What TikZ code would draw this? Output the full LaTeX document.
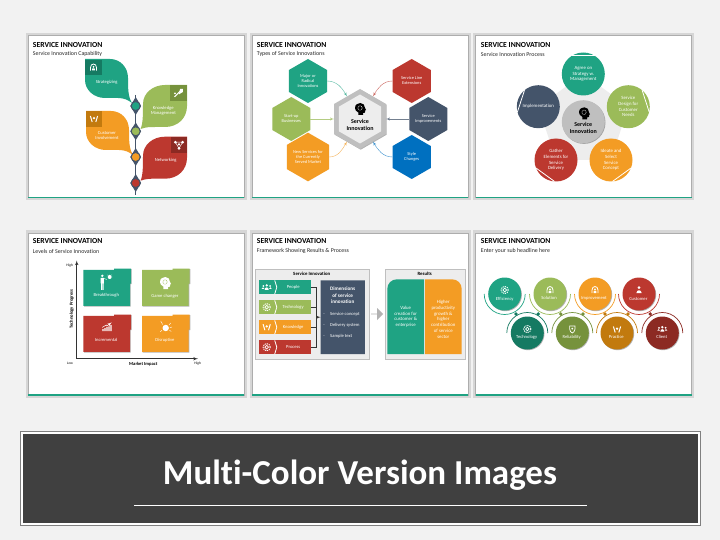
\documentclass[tikz,border=0pt]{standalone}
\usepackage{fontspec}
\setmainfont[Ligatures=NoCommon]{Carlito}
\usepackage{tikz}
\usetikzlibrary{arrows}
\usetikzlibrary{positioning}
\usetikzlibrary{shapes.geometric,shapes.misc,shapes.arrows,shadows}
\definecolor{pageback}{HTML}{F2F2F2}
\definecolor{cteal}{HTML}{1FA383}
\definecolor{cgreen}{HTML}{9BBB59}
\definecolor{corange}{HTML}{F39C24}
\definecolor{cred}{HTML}{BC382F}
\definecolor{cslate}{HTML}{44546A}
\definecolor{cblue}{HTML}{0070C0}
\definecolor{dteal}{HTML}{157A62}
\definecolor{dgreen}{HTML}{76923C}
\definecolor{dorange}{HTML}{C27A0E}
\definecolor{dred}{HTML}{8C2A23}
\definecolor{lgray}{HTML}{EDEDED}
\definecolor{mgray}{HTML}{BFBFBF}
\tikzstyle{slide}=[rectangle,fill=white,draw=black!32,line width=.9pt,inner sep=0pt,outer sep=0pt,preaction={draw=black!16,line width=5pt}]
\tikzstyle{slidebar}=[draw=cteal,line width=1.3pt]
\tikzstyle{headline}=[anchor=west,inner sep=0pt,font=\fontsize{7.7}{8}\selectfont\bfseries]
\tikzstyle{subline}=[anchor=west,inner sep=0pt,font=\fontsize{5.9}{6}\selectfont,text=black!85]
\tikzstyle{whitetext}=[inner sep=0pt,align=center,text=white,font=\fontsize{4.6}{5.5}\selectfont]
\tikzstyle{coretext}=[inner sep=0pt,align=center,font=\fontsize{6}{7}\selectfont\bfseries]
\tikzstyle{tile}=[rectangle,inner sep=0pt,outer sep=0pt]
\tikzstyle{stemline}=[draw=cslate,line width=1.4pt]
\tikzstyle{stempin}=[diamond,fill=cslate,minimum width=11pt,minimum height=18pt,inner sep=0pt]
\tikzstyle{stemdot}=[circle,draw=cslate,line width=1pt,minimum size=9pt,inner sep=0pt]
\tikzstyle{hexcell}=[regular polygon,regular polygon sides=6,shape border rotate=30,minimum size=44pt,inner sep=0pt,outer sep=0pt,text=white,align=center,font=\fontsize{4.4}{5}\selectfont]
\tikzstyle{hexlink}=[line width=.4pt,-latex']
\tikzstyle{bigdot}=[circle,minimum size=43pt,inner sep=0pt,outer sep=0pt,text=white,align=center,font=\fontsize{4.8}{5.6}\selectfont]
\tikzstyle{chord}=[draw=white,line width=.8pt]
\tikzstyle{axis}=[draw=black!80,line width=.6pt,-latex']
\tikzstyle{axistext}=[inner sep=0pt,font=\fontsize{3.6}{4}\selectfont]
\tikzstyle{axisname}=[inner sep=0pt,font=\fontsize{4.6}{5}\selectfont\bfseries]
\tikzstyle{softshadow}=[drop shadow={shadow xshift=.7pt,shadow yshift=-.7pt,opacity=.3,fill=black}]
\tikzstyle{panelbox}=[rectangle,fill=lgray,draw=mgray,line width=.7pt,inner sep=0pt,outer sep=0pt]
\tikzstyle{boxtitle}=[inner sep=0pt,font=\fontsize{4.8}{5}\selectfont\bfseries]
\tikzstyle{elbow}=[draw=black!80,line width=.5pt]
\tikzstyle{ringdot}=[circle,minimum size=33pt,inner sep=0pt,outer sep=0pt,text=white,font=\fontsize{4.4}{5}\selectfont]
\tikzstyle{ringarc}=[line width=.7pt]
\tikzstyle{ringmark}=[diamond,minimum size=4pt,inner sep=0pt]
% leaves of the first slide, origin is the square corner
\newcommand{\leafleft}[3]{\fill[#1,shift={(#2,#3)}] (0,0) -- (25,0) .. controls (35,0) and (43,8) .. (43,19) .. controls (43,29) and (43,38) .. (47,44) .. controls (43,41) and (39,39) .. (33,39) -- (20,39) .. controls (9,39) and (0,31) .. (0,21) -- cycle;}
\newcommand{\leafright}[3]{\fill[#1,shift={(#2,#3)}] (0,0) -- (-22,0) .. controls (-34,0) and (-44,8) .. (-44,19) .. controls (-44,29) and (-44,39) .. (-46.5,44) .. controls (-41,42) and (-37,42) .. (-32,42) -- (-22,42) .. controls (-9,42) and (0,33) .. (0,21) -- cycle;}
% card with a tab on the top right
\newcommand{\levelcard}[3]{\fill[#1,softshadow,shift={(#2,#3)}] (0,1.3) -- (30.7,1.3) -- (30.7,0) -- (47.7,0) -- (47.7,15) -- (46.7,15) -- (46.7,37.3) -- (0,37.3) -- cycle;}
% white pictograms
\newcommand{\iconperson}[2]{\fill[white,shift={(#1,#2)}] (0,-2.4) circle (1.5pt) (-2.6,3) .. controls (-2.6,-.6) and (2.6,-.6) .. (2.6,3) -- cycle;}
\newcommand{\iconpeople}[2]{\fill[white,shift={(#1,#2)}] (0,-1.8) circle (1.3pt) (-3.3,-1.2) circle (1pt) (3.3,-1.2) circle (1pt) (-2,2.6) .. controls (-2,-.6) and (2,-.6) .. (2,2.6) -- cycle (-5,1.6) .. controls (-5,-.4) and (-2.4,-.4) .. (-2.4,1.6) -- cycle (2.4,1.6) .. controls (2.4,-.4) and (5,-.4) .. (5,1.6) -- cycle;}
\newcommand{\icongear}[2]{\draw[white,line width=.7pt,shift={(#1,#2)}] (0,0) circle (1.8pt); \draw[white,line width=.9pt,dash pattern=on 1.2pt off .9pt,shift={(#1,#2)}] (0,0) circle (3.6pt);}
\newcommand{\iconarch}[2]{\draw[white,line width=.8pt,shift={(#1,#2)}] (-3,3.2) -- (-3,0) .. controls (-3,-4.6) and (3,-4.6) .. (3,0) -- (3,3.2); \fill[white,shift={(#1,#2)}] (0,-.6) circle (1pt) (-1.4,3) -- (-1.2,.8) -- (1.2,.8) -- (1.4,3) -- cycle;}
\newcommand{\iconhands}[2]{\draw[white,line width=1pt,shift={(#1,#2)}] (-3.6,-3) -- (-1.8,3) (3.6,-3) -- (1.8,3); \fill[white,shift={(#1,#2)}] (0,-.8) circle (1.3pt);}
\newcommand{\iconshield}[2]{\draw[white,line width=.7pt,shift={(#1,#2)}] (-2.7,-3) -- (2.7,-3) -- (2.7,0) .. controls (2.7,2.4) and (1,3.4) .. (0,4) .. controls (-1,3.4) and (-2.7,2.4) .. (-2.7,0) -- cycle; \fill[white,shift={(#1,#2)}] (0,-.4) circle (1pt);}
\newcommand{\iconnet}[2]{\draw[white,line width=.5pt,shift={(#1,#2)}] (-3.6,-2.6) -- (3.6,-2.6) -- (0,3.6) -- cycle; \fill[white,shift={(#1,#2)}] (-3.6,-2.6) circle (1.5pt) (3.6,-2.6) circle (1.5pt) (0,3.6) circle (1.5pt) (0,-.4) circle (1.2pt);}
\newcommand{\icontool}[2]{\draw[white,line width=1pt,shift={(#1,#2)}] (-4,4) -- (3,-3); \fill[white,shift={(#1,#2)}] (1.6,-4) -- (4.4,-4) -- (4.4,-.8) -- (.4,1.6) -- cycle (-3.6,.6) circle (1pt);}
\newcommand{\iconchart}[2]{\fill[white,shift={(#1,#2)}] (-5,3) rectangle (-3.6,1.2) (-3,3) rectangle (-1.6,.2) (-1,3) rectangle (.4,-.8) (1,3) rectangle (2.4,-1.6) (3,3) rectangle (4.4,-2.8); \draw[white,line width=.5pt,-latex',shift={(#1,#2)}] (-5,-.6) -- (-1,-3) -- (-.4,-2) -- (4.4,-5.6);}
\newcommand{\iconburst}[2]{\fill[white,shift={(#1,#2)}] (0,0) circle (3.2pt); \draw[white,line width=.4pt,shift={(#1,#2)}] (-3,-3.4) -- (-5,-7) (3.2,-3) -- (5,-5) (4.2,-.4) -- (6.4,-1) (3.8,2.4) -- (5.6,3.4) (-3.8,2.4) -- (-5.4,3.6);}
\newcommand{\iconpitch}[2]{\fill[white,shift={(#1,#2)}] (-4,-7.2) circle (1.3pt) (-5.6,-5.2) rectangle (-2.4,.4) (-5.2,.4) rectangle (-4.3,6.8) (-3.7,.4) rectangle (-2.8,6.8) (3.4,-6) circle (2pt); \draw[white,line width=.4pt,shift={(#1,#2)}] (-2.6,-4.6) -- (.4,-3.6) (3.4,-9) -- (3.4,-8.6) (.4,-6) -- (.8,-6) (6.4,-6) -- (6,-6) (1.2,-8.2) -- (1.6,-7.8) (5.6,-8.2) -- (5.2,-7.8);}
% head with a gear, fill colour and colour of the gear
\newcommand{\iconhead}[4]{\fill[#3,shift={(#1,#2)}] (-1.6,6) -- (-1.6,3.6) .. controls (-4,2.6) and (-5,.6) .. (-5,-1) .. controls (-5,-4.6) and (-2,-6) .. (.4,-6) .. controls (3.4,-6) and (5,-3.6) .. (5,-1) -- (6,1) -- (5,1.6) -- (5,3.2) .. controls (5,4) and (4,4) .. (3,4) -- (3,6) -- cycle; \draw[#4,line width=.4pt,dash pattern=on .8pt off .6pt,shift={(#1,#2)}] (0,-1) circle (2.2pt);}

\begin{document}
\begin{tikzpicture}[x=1pt,y=-1pt]
	\useasboundingbox (0,0) rectangle (720,540);
	\fill[pageback] (0,0) rectangle (720,540);
	
	% six slides
	\node[slide,minimum width=216pt,minimum height=162pt] (slideA) at (136,116.5) {};
	\node[slide,minimum width=216pt,minimum height=162pt] (slideB) at (360,116.5) {};
	\node[slide,minimum width=216pt,minimum height=162pt] (slideC) at (583.5,116.5) {};
	\node[slide,minimum width=216pt,minimum height=162pt] (slideD) at (136,314) {};
	\node[slide,minimum width=216pt,minimum height=162pt] (slideE) at (360,314) {};
	\node[slide,minimum width=216pt,minimum height=162pt] (slideF) at (583.5,314) {};
	\draw[slidebar] (slideA.south west) -- (slideA.south east);
	\draw[slidebar] (slideB.south west) -- (slideB.south east);
	\draw[slidebar] (slideC.south west) -- (slideC.south east);
	\draw[slidebar] (slideD.south west) -- (slideD.south east);
	\draw[slidebar] (slideE.south west) -- (slideE.south east);
	\draw[slidebar] (slideF.south west) -- (slideF.south east);
	
	\node[headline] (headA) at (32.7,44.7) {SERVICE INNOVATION};
	\node[subline] (subA) at (32.7,54) {Service Innovation Capability};
	\node[headline] (headB) at (256.7,44.7) {SERVICE INNOVATION};
	\node[subline] (subB) at (256.7,54) {Types of Service Innovations};
	\node[headline] (headC) at (480.7,44.7) {SERVICE INNOVATION};
	\node[subline] (subC) at (480.7,54) {Service Innovation Process};
	\node[headline] (headD) at (32.7,241.5) {SERVICE INNOVATION};
	\node[subline] (subD) at (32.7,251) {Levels of Service Innovation};
	\node[headline] (headE) at (256.7,241.5) {SERVICE INNOVATION};
	\node[subline] (subE) at (256.7,251) {Framework Showing Results \& Process};
	\node[headline] (headF) at (480.7,241.5) {SERVICE INNOVATION};
	\node[subline] (subF) at (480.7,251) {Enter your sub headline here};
	
	% slide A, the plant
	\leafleft{cteal}{85}{59}
	\leafright{cgreen}{187}{85}
	\leafleft{corange}{86}{111}
	\leafright{cred}{187}{136.7}
	\node[tile,fill=dteal,minimum width=17pt,minimum height=15pt] (markA) at (93.5,67.5) {};
	\node[tile,fill=dgreen,minimum width=17pt,minimum height=15.7pt] (markB) at (178.5,92.8) {};
	\node[tile,fill=dorange,minimum width=16pt,minimum height=16pt] (markC) at (94,119) {};
	\node[tile,fill=dred,minimum width=16pt,minimum height=16pt] (markD) at (179,144.8) {};
	\iconarch{93.5}{67.5}
	\icontool{178.5}{92.8}
	\iconhands{94}{119}
	\iconnet{179}{144.8}
	\node[whitetext] (leafA) at (106.7,82.3) {Strategizing};
	\node[whitetext] (leafB) at (163.3,110.7) {Knowledge\\Management};
	\node[whitetext] (leafC) at (107,135.7) {Customer\\Involvement};
	\node[whitetext] (leafD) at (165.7,160) {Networking};
	\coordinate (stemtop) at (135.7,95);
	\coordinate (stemend) at (135.7,195);
	\node[stempin] (pinA) at (135.7,106) {};
	\node[stempin] (pinB) at (135.7,131.3) {};
	\node[stempin] (pinC) at (135.7,157) {};
	\node[stempin] (pinD) at (135.7,183) {};
	\draw[stemline] (stemtop) -- (stemend);
	\node[stemdot,fill=cteal] (dotA) at (135.7,106) {};
	\node[stemdot,fill=cgreen] (dotB) at (135.7,131.3) {};
	\node[stemdot,fill=corange] (dotC) at (135.7,157) {};
	\node[stemdot,fill=cred] (dotD) at (135.7,183) {};
	
	% slide B, the hexagons
	\node[hexcell,fill=mgray,minimum size=60pt,softshadow] (core) at (360,119) {};
	\node[hexcell,fill=lgray,minimum size=49pt] (coreinner) at (360,119) {};
	\node[hexcell,fill=cteal] (major) at (308,81) {Major or\\Radical\\Innovations};
	\node[hexcell,fill=cred] (senior) at (411.7,81) {Service Line\\Extensions};
	\node[hexcell,fill=cgreen] (startup) at (291.3,119) {Start-up\\Businesses};
	\node[hexcell,fill=cslate] (improve) at (428.3,119) {Service\\Improvements};
	\node[hexcell,fill=corange] (newserv) at (308,157) {New Services for\\the Currently\\Served Market};
	\node[hexcell,fill=cblue] (style) at (411.7,157) {Style\\Changes};
	\draw[hexlink,draw=cteal!75] (major.east) to[out=0,in=120] (core.120);
	\draw[hexlink,draw=cred!75] (senior.west) to[out=180,in=60] (core.60);
	\draw[hexlink,draw=cgreen!75] (startup.east) to (core.180);
	\draw[hexlink,draw=cslate!75] (improve.west) to (core.0);
	\draw[hexlink,draw=corange!75] (newserv.east) to[out=0,in=240] (core.240);
	\draw[hexlink,draw=cblue!75] (style.west) to[out=180,in=300] (core.300);
	\iconhead{360}{109}{black}{white}
	\node[coretext] (corename) at (360,124.5) {Service\\Innovation};
	
	% slide C, the pentagon
	\fill[lgray] (583.3,74) -- (628.3,106.7) -- (611,160) -- (556,160) -- (538.3,106.7) -- cycle;
	\node[bigdot,fill=cteal] (agree) at (583.3,74) {Agree on\\Strategy w.\\Management};
	\node[bigdot,fill=cgreen] (design) at (628.3,106.7) {Service\\Design for\\Customer\\Needs};
	\node[bigdot,fill=corange] (ideate) at (611,160) {Ideate and\\Select\\Service\\Concept};
	\node[bigdot,fill=cred] (gather) at (556,160) {Gather\\Elements for\\Service\\Delivery};
	\node[bigdot,fill=cslate] (impl) at (538.3,106.7) {Implementation};
	\draw[chord] (agree.58) -- (agree.122);
	\draw[chord] (design.-14) -- (design.50);
	\draw[chord] (ideate.-86) -- (ideate.-22);
	\draw[chord] (gather.-158) -- (gather.-94);
	\draw[chord] (impl.130) -- (impl.194);
	\node[bigdot,fill=mgray,softshadow] (hub) at (583.3,121.7) {};
	\iconhead{584}{113.3}{black}{white}
	\node[coretext] (hubname) at (583.3,127.5) {Service\\Innovation};
	
	% slide D, the matrix
	\coordinate (origin) at (76.7,358.7);
	\coordinate (axisup) at (76.7,260.5);
	\coordinate (axisright) at (198,358.7);
	\draw[axis] (origin) -- (axisup);
	\draw[axis] (origin) -- (axisright);
	\node[axistext] (highup) at (69.7,265.7) {High};
	\node[axistext] (lowend) at (70,363.7) {Low};
	\node[axistext] (highright) at (197.7,363.7) {High};
	\node[axisname] (market) at (143.3,364) {Market Impact};
	\node[axisname,rotate=90] (techprog) at (71.7,309) {Technology Progress};
	\levelcard{cteal}{83.3}{268.5}
	\levelcard{cgreen}{142}{268.5}
	\levelcard{cred}{83.3}{314.5}
	\levelcard{corange}{142}{314.5}
	\iconpitch{106.3}{283}
	\iconhead{165}{283}{white}{cgreen}
	\iconchart{107.3}{328}
	\iconburst{165.7}{328}
	\node[whitetext] (levelA) at (106.3,295.3) {Breakthrough};
	\node[whitetext] (levelB) at (165,296) {Game changer};
	\node[whitetext] (levelC) at (106.3,340) {Incremental};
	\node[whitetext] (levelD) at (165,340.7) {Disruptive};
	
	% slide E, the framework
	\node[panelbox,minimum width=114.7pt,minimum height=90.3pt,softshadow] (innobox) at (312.3,314.2) {};
	\node[panelbox,minimum width=80pt,minimum height=90.3pt,softshadow] (resultbox) at (425,314.2) {};
	\node[boxtitle] (innotitle) at (311.7,274) {Service Innovation};
	\node[boxtitle] (resulttitle) at (424.7,274) {Results};
	\node[tile,fill=cteal,minimum width=16pt,minimum height=13.7pt] (peopleicon) at (266.7,287.2) {};
	\node[tile,fill=cgreen,minimum width=16pt,minimum height=13.7pt] (techicon) at (266.7,307.2) {};
	\node[tile,fill=corange,minimum width=16pt,minimum height=13.7pt] (knowicon) at (266.7,327.2) {};
	\node[tile,fill=cred,minimum width=16pt,minimum height=13.7pt] (procicon) at (266.7,347.2) {};
	\node[tile,fill=cteal,minimum width=36.3pt,minimum height=13.7pt,text=white,font=\fontsize{4.6}{5}\selectfont] (people) at (293.2,287.2) {People};
	\node[tile,fill=cgreen,minimum width=36.3pt,minimum height=13.7pt,text=white,font=\fontsize{4.6}{5}\selectfont] (tech) at (293.2,307.2) {Technology};
	\node[tile,fill=corange,minimum width=36.3pt,minimum height=13.7pt,text=white,font=\fontsize{4.6}{5}\selectfont] (know) at (293.2,327.2) {Knowledge};
	\node[tile,fill=cred,minimum width=36.3pt,minimum height=13.7pt,text=white,font=\fontsize{4.6}{5}\selectfont] (proc) at (293.2,347.2) {Process};
	\draw[white,line width=.8pt] (peopleicon.north east) -- (276.8,287.2) -- (peopleicon.south east);
	\draw[white,line width=.8pt] (techicon.north east) -- (276.8,307.2) -- (techicon.south east);
	\draw[white,line width=.8pt] (knowicon.north east) -- (276.8,327.2) -- (knowicon.south east);
	\draw[white,line width=.8pt] (procicon.north east) -- (276.8,347.2) -- (procicon.south east);
	\iconpeople{266.7}{287.2}
	\icongear{266.7}{307.2}
	\iconhands{266.7}{327.2}
	\icongear{266.7}{347.2}
	\node[chamfered rectangle,chamfered rectangle corners={north east,south west},chamfered rectangle xsep=3pt,chamfered rectangle ysep=3pt,fill=cslate,minimum width=44.3pt,minimum height=73.7pt,inner sep=0pt,outer sep=0pt] (dims) at (342.8,317.2) {};
	\node[inner sep=0pt,align=center,text=white,font=\fontsize{5.2}{6.4}\selectfont\bfseries] (dimshead) at (342.7,295.5) {Dimensions\\of service\\innovation};
	\node[whitetext,anchor=west] (dimsA) at (330,314.3) {Service concept};
	\node[whitetext,anchor=west] (dimsB) at (330,325.7) {Delivery system};
	\node[whitetext,anchor=west] (dimsC) at (330,336.7) {Sample text};
	\node[whitetext,anchor=center] (bulletA) at (324,314.3) {-};
	\node[whitetext,anchor=center] (bulletB) at (324,325.7) {-};
	\node[whitetext,anchor=center] (bulletC) at (324,336.7) {-};
	\coordinate (joint) at (316,317.2);
	\draw[elbow] (people.east) -| (joint);
	\draw[elbow] (tech.east) -| (joint);
	\draw[elbow] (know.east) -| (joint);
	\draw[elbow] (proc.east) -| (joint);
	\draw[elbow,-latex'] (joint) -- (dims.west);
	\node[single arrow,fill=black!30,minimum height=12pt,minimum width=12pt,single arrow head extend=2.7pt,inner sep=0pt,outer sep=0pt] (bigarrow) at (377,314) {};
	\fill[cteal] (387.3,354) -- (387.3,289) .. controls (387.3,283.5) and (391.5,279.3) .. (397,279.3) -- (424,279.3) -- (424,354) -- cycle;
	\fill[corange] (461.7,354) -- (461.7,289) .. controls (461.7,283.5) and (457.5,279.3) .. (452,279.3) -- (425,279.3) -- (425,354) -- cycle;
	\node[whitetext,font=\fontsize{4.8}{5.7}\selectfont] (valuetext) at (405.7,316.7) {Value\\creation for\\customer \&\\enterprise};
	\node[whitetext,font=\fontsize{4.8}{5.7}\selectfont] (highertext) at (443.3,319.3) {Higher\\productivity\\growth \&\\higher\\contribution\\of service\\sector};
	
	% slide F, the two rows of rings
	\draw[ringarc,draw=cteal] (484.2,294) arc[start angle=180,end angle=360,radius=20.5pt];
	\draw[ringarc,draw=cgreen] (529.5,294) arc[start angle=180,end angle=360,radius=20.5pt];
	\draw[ringarc,draw=corange] (574.5,294) arc[start angle=180,end angle=360,radius=20.5pt];
	\draw[ringarc,draw=cred] (618.5,294) arc[start angle=180,end angle=360,radius=20.5pt];
	\draw[ringarc,draw=dteal] (547.8,333) arc[start angle=0,end angle=180,radius=20.5pt];
	\draw[ringarc,draw=dgreen] (592.8,333) arc[start angle=0,end angle=180,radius=20.5pt];
	\draw[ringarc,draw=dorange] (637.5,333) arc[start angle=0,end angle=180,radius=20.5pt];
	\draw[ringarc,draw=dred] (682.8,333) arc[start angle=0,end angle=180,radius=20.5pt];
	\node[ringdot,fill=cteal,softshadow] (effic) at (504.7,294) {};
	\node[ringdot,fill=cgreen,softshadow] (solut) at (550,294) {};
	\node[ringdot,fill=corange,softshadow] (impro) at (595,294) {};
	\node[ringdot,fill=cred,softshadow] (custo) at (639,294) {};
	\node[ringdot,fill=dteal,softshadow] (techn) at (527.3,333) {};
	\node[ringdot,fill=dgreen,softshadow] (relia) at (572.3,333) {};
	\node[ringdot,fill=dorange,softshadow] (pract) at (617,333) {};
	\node[ringdot,fill=dred,softshadow] (clien) at (662.3,333) {};
	\node[ringmark,fill=dteal] (markone) at (516,314) {};
	\node[ringmark,fill=dteal] (marktwo) at (538.3,314) {};
	\node[ringmark,fill=dgreen] (markthree) at (560.7,314) {};
	\node[ringmark,fill=dgreen] (markfour) at (583,314) {};
	\node[ringmark,fill=dorange] (markfive) at (605,314) {};
	\node[ringmark,fill=dorange] (marksix) at (628,314) {};
	\node[ringmark,fill=dred] (markseven) at (650.3,314) {};
	\icongear{504.7}{290}
	\iconarch{550}{290}
	\iconarch{595}{290}
	\iconperson{639}{290}
	\icongear{527.3}{329}
	\iconshield{572.3}{329}
	\iconhands{617}{329.5}
	\iconpeople{662.3}{329}
	\node[whitetext] (namea) at (504.7,299) {Efficiency};
	\node[whitetext] (nameb) at (549,298) {Solution};
	\node[whitetext] (namec) at (594,298.3) {Improvement};
	\node[whitetext] (named) at (638.3,299.3) {Customer};
	\node[whitetext] (namee) at (526.7,337.7) {Technology};
	\node[whitetext] (namef) at (571.7,337) {Reliability};
	\node[whitetext] (nameg) at (616.3,337) {Practice};
	\node[whitetext] (nameh) at (661.7,337) {Client};
	
	% banner
	\node[rectangle,fill=black!75,draw=white,line width=2pt,inner sep=0pt,outer sep=0pt,minimum width=677pt,minimum height=91pt,preaction={draw=black!50,line width=4pt}] (banner) at (360.5,478.7) {};
	\node[inner sep=0pt,text=white,font=\fontsize{35}{40}\selectfont\bfseries] (bannertext) at (360,475) {Multi-Color Version Images};
	\coordinate (ruleleft) at (134,505.3);
	\coordinate (ruleright) at (587,505.3);
	\draw[white,line width=.6pt] (ruleleft) -- (ruleright);
	
\end{tikzpicture}
\end{document}
